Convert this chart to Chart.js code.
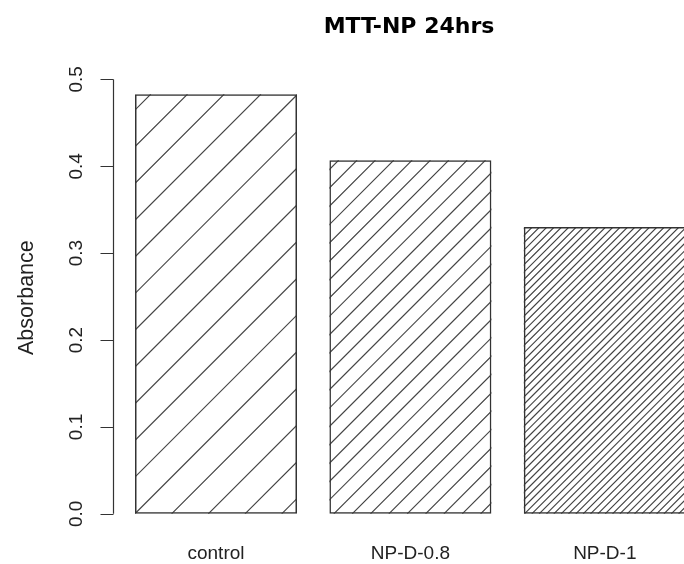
<!DOCTYPE html>
<html>
<head>
<meta charset="utf-8">
<script src="https://cdn.jsdelivr.net/npm/chart.js@4"></script>
<style>
  html, body { margin: 0; padding: 0; background: #fff; overflow: hidden; }
  #wrap { position: relative; width: 720px; height: 564px; }
</style>
</head>
<body>
<div id="wrap"><canvas id="chart"></canvas></div>
<script>
// --- data ---
const categories = ['control', 'NP-D-0.8', 'NP-D-1'];
const absorbance = [0.483, 0.407, 0.330];
const hatchDensity = [10, 20, 50];          // shading density of each bar
const yTicks = [0, 0.1, 0.2, 0.3, 0.4, 0.5];
const yTickLabels = ['0.0', '0.1', '0.2', '0.3', '0.4', '0.5'];
const chartTitle = 'MTT-NP 24hrs';
const yTitle = 'Absorbance';

const FONT = '"Liberation Sans", Arial, Helvetica, sans-serif';
const INK = '#222';

// diagonal hatching, drawn under the bar outlines
const hatchPlugin = {
  id: 'hatch',
  beforeDatasetsDraw(chart) {
    const ctx = chart.ctx;
    const phase = [24.8, 3.5, 3.3];
    chart.getDatasetMeta(0).data.forEach((bar, i) => {
      const { x, y, base, width } = bar.getProps(['x', 'y', 'base', 'width'], true);
      const left = x - width / 2, right = x + width / 2;
      const step = 367 / hatchDensity[i];
      ctx.save();
      ctx.beginPath();
      ctx.rect(left, y, width, base - y);
      ctx.clip();
      ctx.strokeStyle = '#444';
      ctx.lineWidth = 1.2;
      ctx.beginPath();
      // lines x + y = c
      let c = Math.floor((left + y - phase[i]) / step) * step + phase[i];
      for (; c <= right + base + step; c += step) {
        ctx.moveTo(c - base, base);
        ctx.lineTo(c - y, y);
      }
      ctx.stroke();
      ctx.restore();
    });
  }
};

// R-style y axis (line only spans the tick range) + titles
const axisPlugin = {
  id: 'rAxes',
  afterDraw(chart) {
    const { ctx, chartArea } = chart;
    const yScale = chart.scales.y;
    const axisX = Math.round(chartArea.left - 6) + 0.5;
    const yLo = yScale.getPixelForValue(yTicks[0]);
    const yHi = yScale.getPixelForValue(yTicks[yTicks.length - 1]);

    ctx.save();
    ctx.strokeStyle = '#333';
    ctx.lineWidth = 1.2;
    ctx.beginPath();
    ctx.moveTo(axisX, yLo);
    ctx.lineTo(axisX, yHi);
    yTicks.forEach(v => {
      const py = Math.round(yScale.getPixelForValue(v)) + 0.5;
      ctx.moveTo(axisX, py);
      ctx.lineTo(axisX - 13, py);
    });
    ctx.stroke();

    ctx.fillStyle = INK;
    ctx.font = '19px ' + FONT;
    ctx.textAlign = 'center';
    ctx.textBaseline = 'alphabetic';
    yTicks.forEach((v, i) => {
      ctx.save();
      ctx.translate(82, yScale.getPixelForValue(v));
      ctx.rotate(-Math.PI / 2);
      ctx.fillText(yTickLabels[i], 0, 0);
      ctx.restore();
    });

    ctx.font = '21.5px ' + FONT;
    ctx.save();
    ctx.translate(33, (chartArea.top + chartArea.bottom) / 2 + 1);
    ctx.rotate(-Math.PI / 2);
    ctx.fillText(yTitle, 0, 0);
    ctx.restore();

    ctx.font = 'bold 22px "DejaVu Sans", sans-serif';
    ctx.fillStyle = '#000';
    ctx.fillText(chartTitle, 409, 33);
    ctx.restore();
  }
};

new Chart(document.getElementById('chart'), {
  type: 'bar',
  data: {
    labels: categories,
    datasets: [{
      data: absorbance,
      backgroundColor: 'rgba(0,0,0,0)',
      borderColor: '#333',
      borderWidth: 1.5,
      borderSkipped: false,
      categoryPercentage: 1,
      barPercentage: 1 / 1.2
    }]
  },
  options: {
    responsive: true,
    maintainAspectRatio: false,
    animation: false,
    layout: { padding: { left: 118.8, right: 18, top: 62, bottom: -12 } },
    plugins: {
      legend: { display: false },
      tooltip: { enabled: false },
      title: { display: false }
    },
    scales: {
      x: {
        grid: { display: false, drawTicks: false },
        border: { display: false },
        ticks: { color: INK, font: { family: FONT, size: 19 }, padding: 11 }
      },
      y: {
        display: false,
        min: -0.02,
        max: 0.52
      }
    }
  },
  plugins: [hatchPlugin, axisPlugin]
});
</script>
</body>
</html>
